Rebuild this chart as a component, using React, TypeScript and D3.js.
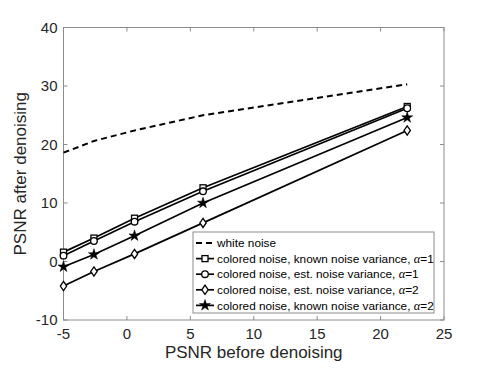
import React from "react";
import * as d3 from "d3";

const psnrIn = [-5, -2.6, 0.6, 6, 22.1];
const whiteNoise = [18.6, 20.6, 22.4, 25.0, 30.3];
const knownA1 = [1.6, 4.0, 7.4, 12.6, 26.5];
const estA1 = [1.0, 3.5, 6.8, 12.0, 26.2];
const estA2 = [-4.2, -1.7, 1.3, 6.6, 22.4];
const knownA2 = [-0.9, 1.2, 4.4, 10.0, 24.6];

const xTicks = [-5, 0, 5, 10, 15, 20, 25];
const yTicks = [-10, 0, 10, 20, 30, 40];

const legendItems = [
  { label: "colored noise, known noise variance, ", alpha: "1", marker: "square", data: knownA1 },
  { label: "colored noise, est. noise variance, ", alpha: "1", marker: "circle", data: estA1 },
  { label: "colored noise, est. noise variance, ", alpha: "2", marker: "diamond", data: estA2 },
  { label: "colored noise, known noise variance, ", alpha: "2", marker: "star", data: knownA2 },
];

const margin = { top: 27.5, right: 47, bottom: 48, left: 63.5 };
const W = 491;
const H = 368;

const Marker = ({ type, x, y }: { type: string; x: number; y: number }) => {
  if (type === "square")
    return <rect x={x - 3} y={y - 3} width={6} height={6} fill="white" stroke="black" strokeWidth={1.3} />;
  if (type === "circle") return <circle cx={x} cy={y} r={3.3} fill="white" stroke="black" strokeWidth={1.3} />;
  if (type === "diamond")
    return (
      <path
        d={`M${x},${y - 4.6}L${x + 3.2},${y}L${x},${y + 4.6}L${x - 3.2},${y}Z`}
        fill="white"
        stroke="black"
        strokeWidth={1.3}
      />
    );
  const star = d3.symbol(d3.symbolStar, 38)();
  return <path d={star || ""} transform={`translate(${x},${y})`} fill="black" stroke="black" strokeWidth={0.5} />;
};

export default function App() {
  const x = d3.scaleLinear().domain([-5, 25]).range([margin.left, W - margin.right]);
  const y = d3.scaleLinear().domain([-10, 40]).range([H - margin.bottom, margin.top]);
  const line = d3
    .line<number>()
    .x((_, i) => x(psnrIn[i]))
    .y((d) => y(d));

  const axisColor = "#8c8c8c";
  const textColor = "#262626";
  const font = "'Liberation Sans', Arial, sans-serif";

  const lx = 193;
  const ly = 232;
  const lw = 241;
  const lh = 81;
  const rowH = 15.6;

  return (
    <svg width={W} height={H} style={{ position: "absolute", left: 0, top: 0 }} fontFamily={font}>
      <rect width={W} height={H} fill="white" />
      {/* box */}
      <rect
        x={x(-5)}
        y={y(40)}
        width={x(25) - x(-5)}
        height={y(-10) - y(40)}
        fill="none"
        stroke={axisColor}
        strokeWidth={1}
      />
      {xTicks.map((t) => (
        <g key={"x" + t}>
          <line x1={x(t)} x2={x(t)} y1={y(-10)} y2={y(-10) - 4} stroke={axisColor} />
          <line x1={x(t)} x2={x(t)} y1={y(40)} y2={y(40) + 4} stroke={axisColor} />
          <text x={x(t)} y={y(-10) + 19} textAnchor="middle" fontSize={15} fill={textColor}>
            {t}
          </text>
        </g>
      ))}
      {yTicks.map((t) => (
        <g key={"y" + t}>
          <line x1={x(-5)} x2={x(-5) + 4} y1={y(t)} y2={y(t)} stroke={axisColor} />
          <line x1={x(25)} x2={x(25) - 4} y1={y(t)} y2={y(t)} stroke={axisColor} />
          <text x={x(-5) - 6} y={y(t)} dy="0.35em" textAnchor="end" fontSize={15} fill={textColor}>
            {t}
          </text>
        </g>
      ))}
      <text x={(x(-5) + x(25)) / 2} y={358} textAnchor="middle" fontSize={17} fill={textColor}>
        PSNR before denoising
      </text>
      <text
        transform={`translate(26,${(y(-10) + y(40)) / 2}) rotate(-90)`}
        textAnchor="middle"
        fontSize={17}
        fill={textColor}
      >
        PSNR after denoising
      </text>

      {/* series */}
      <path d={line(whiteNoise) || ""} fill="none" stroke="black" strokeWidth={2} strokeDasharray="6,4" />
      {legendItems.map((s) => (
        <g key={s.marker}>
          <path d={line(s.data) || ""} fill="none" stroke="black" strokeWidth={1.7} />
          {s.data.map((v, i) => (
            <Marker key={i} type={s.marker} x={x(psnrIn[i])} y={y(v)} />
          ))}
        </g>
      ))}

      {/* legend */}
      <rect x={lx} y={ly} width={lw} height={lh} fill="white" stroke={axisColor} strokeWidth={1} />
      <g fontSize={11.8} fill="black">
        <line x1={lx + 3} x2={lx + 21} y1={ly + 11} y2={ly + 11} stroke="black" strokeWidth={2} strokeDasharray="6,4" />
        <text x={lx + 24} y={ly + 11} dy="0.35em">
          white noise
        </text>
        {legendItems.map((s, i) => {
          const yy = ly + 11 + rowH * (i + 1);
          return (
            <g key={"l" + i}>
              <line x1={lx + 3} x2={lx + 21} y1={yy} y2={yy} stroke="black" strokeWidth={1.7} />
              <Marker type={s.marker} x={lx + 12} y={yy} />
              <text x={lx + 24} y={yy} dy="0.35em">
                {s.label}
                <tspan fontFamily="'Liberation Serif', 'DejaVu Serif', serif" fontStyle="italic" fontSize={12.5}>
                  {"α"}
                </tspan>
                {"=" + s.alpha}
              </text>
            </g>
          );
        })}
      </g>
    </svg>
  );
}
